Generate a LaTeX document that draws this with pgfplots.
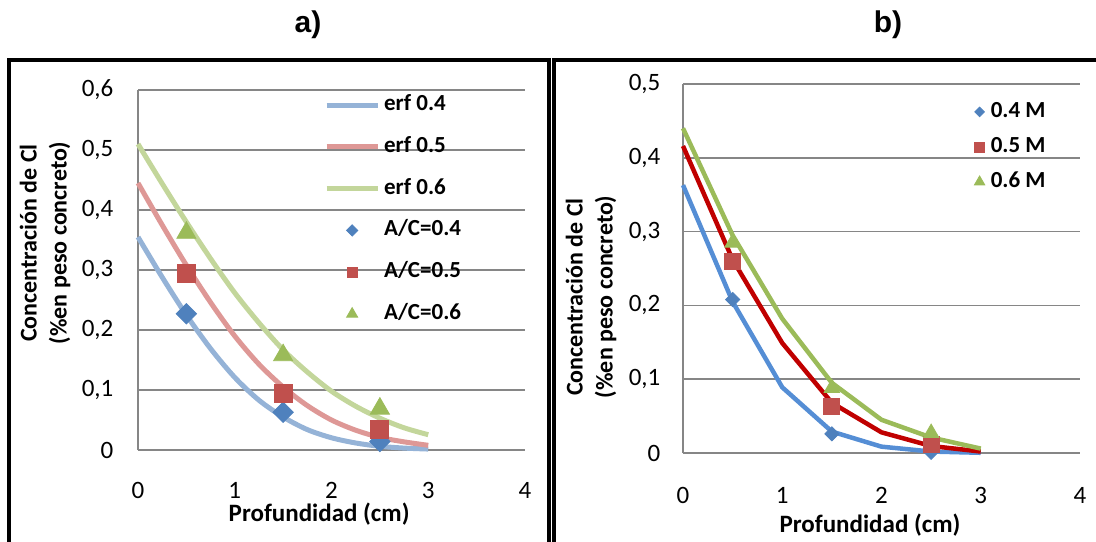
\documentclass[border=0pt]{standalone}
\usepackage{fontspec}
\setmainfont{Carlito}
\newfontfamily\arialfont{Liberation Sans}
\usepackage{pgfplots}
\pgfplotsset{compat=1.18}
\definecolor{gridgray}{HTML}{868686}
\definecolor{erfA}{HTML}{95B3D7}
\definecolor{erfB}{HTML}{DE9896}
\definecolor{erfC}{HTML}{C3D69B}
\definecolor{mkA}{HTML}{4F81BD}
\definecolor{mkB}{HTML}{C0504D}
\definecolor{mkC}{HTML}{9BBB59}
\definecolor{lnA}{HTML}{558ED5}
\definecolor{lnB}{HTML}{C00000}
\definecolor{lnC}{HTML}{9BBB59}
\pgfplotsset{
  panel/.style={
    scale only axis, clip=false,
    xmin=0, xmax=4, ymin=0,
    axis lines=left,
    axis line style={draw=gridgray, line width=0.75pt, -},
    ymajorgrids, grid style={draw=gridgray, line width=0.75pt},
    major tick length=0pt,
    xtick={0,1,2,3,4}, xticklabels={0,1,2,3,4},
    tick label style={font=\fontsize{12.5}{15}\selectfont},
    xlabel={Profundidad (cm)},
    ylabel={Concentración de Cl\\(\%en peso concreto)},
    xlabel style={font=\bfseries\fontsize{12.5}{15}\selectfont, anchor=center, inner sep=0pt},
    ylabel style={font=\bfseries\fontsize{12}{15}\selectfont, align=center, anchor=center},
    legend cell align=left,
  },
  markleg/.style={legend image code/.code={\path[draw=none,fill=none] (0pt,0pt) -- (25.5pt,0pt);
    \draw plot coordinates {(12.75pt,0pt)};}},
}
\begin{document}
\begin{tikzpicture}
\useasboundingbox (0,0) rectangle (548pt,-270.5pt);
\draw[line width=2pt] (4.5pt,-300pt) -- (4.5pt,-30pt) -- (274.25pt,-30pt) -- (274.25pt,-300pt);
\draw[line width=2pt] (276.75pt,-300pt) -- (276.75pt,-30pt) -- (600pt,-30pt);
\node[font=\arialfont\bfseries\fontsize{15}{18}\selectfont] at (154pt,-12.5pt) {a)};
\node[font=\arialfont\bfseries\fontsize{15}{18}\selectfont] at (444pt,-12.5pt) {b)};

% ---------------- panel a
\begin{axis}[panel,
  at={(69pt,-225pt)}, anchor=south west,
  width=193.5pt, height=180pt,
  ymax=0.6,
  ytick={0,0.1,0.2,0.3,0.4,0.5,0.6},
  yticklabels={0,{0,1},{0,2},{0,3},{0,4},{0,5},{0,6}},
  xticklabel style={inner sep=0pt, yshift=-16.1pt},
  yticklabel style={xshift=-8.8pt},
  xlabel style={at={(rel axis cs:0.468,-0.1778)}},
  ylabel style={at={(rel axis cs:-0.2403,0.575)}},
  legend style={at={(rel axis cs:0.480,0.997)}, anchor=north west, draw=none, fill=none,
    font=\bfseries\fontsize{11.5}{13}\selectfont, inner sep=0pt,
    row sep=7.4pt, column sep=0pt,
    nodes={inner sep=2pt, text height=7.5pt, text depth=2pt}},
  legend image code/.code={\draw plot coordinates {(0pt,0pt) (25.5pt,0pt)};},
]
\addplot[erfA, line width=2.5pt, smooth] coordinates {
(0,0.355)(0.25,0.288)(0.5,0.225)(0.75,0.169)(1,0.121)(1.25,0.083)(1.5,0.055)
(1.75,0.034)(2,0.0204)(2.25,0.0117)(2.5,0.0062)(2.75,0.0032)(3,0.0016)};
\addlegendentry{erf 0.4}
\addplot[erfB, line width=2.5pt, smooth] coordinates {
(0,0.445)(0.25,0.375)(0.5,0.308)(0.75,0.246)(1,0.190)(1.25,0.143)(1.5,0.105)
(1.75,0.074)(2,0.050)(2.25,0.033)(2.5,0.021)(2.75,0.0136)(3,0.0078)};
\addlegendentry{erf 0.5}
\addplot[erfC, line width=2.5pt, smooth] coordinates {
(0,0.510)(0.25,0.444)(0.5,0.380)(0.75,0.319)(1,0.262)(1.25,0.212)(1.5,0.167)
(1.75,0.130)(2,0.098)(2.25,0.073)(2.5,0.053)(2.75,0.037)(3,0.0255)};
\addlegendentry{erf 0.6}
\addplot[forget plot, only marks, mark=square*, mark size=3.6pt, mark options={rotate=45, draw=mkA, fill=mkA}]
  coordinates {(0.5,0.227)(1.5,0.063)(2.5,0.014)};
\addplot[forget plot, only marks, mark=square*, mark size=4.5pt, mark options={draw=mkB, fill=mkB}]
  coordinates {(0.5,0.294)(1.5,0.095)(2.5,0.035)};
\addplot[forget plot, only marks, mark=triangle*, mark size=5.5pt, mark options={draw=mkC, fill=mkC}]
  coordinates {(0.5,0.362)(1.5,0.158)(2.5,0.069)};
\addlegendimage{only marks, mark=square*, mark size=2pt, mark options={rotate=45, draw=mkA, fill=mkA}, markleg}
\addlegendentry{A/C=0.4}
\addlegendimage{only marks, mark=square*, mark size=2.5pt, mark options={draw=mkB, fill=mkB}, markleg}
\addlegendentry{A/C=0.5}
\addlegendimage{only marks, mark=triangle*, mark size=3.2pt, mark options={draw=mkC, fill=mkC}, markleg}
\addlegendentry{A/C=0.6}
\end{axis}

% ---------------- panel b
\begin{axis}[panel,
  at={(341.5pt,-226.5pt)}, anchor=south west,
  width=198.5pt, height=184.5pt,
  ymax=0.5,
  ytick={0,0.1,0.2,0.3,0.4,0.5},
  yticklabels={0,{0,1},{0,2},{0,3},{0,4},{0,5}},
  xticklabel style={inner sep=0pt, yshift=-17.1pt},
  yticklabel style={xshift=-7.8pt},
  xlabel style={at={(rel axis cs:0.471,-0.1951)}},
  ylabel style={at={(rel axis cs:-0.2317,0.423)}},
  legend style={at={(rel axis cs:0.733,0.962)}, anchor=north west, draw=none, fill=none,
    font=\bfseries\fontsize{11.5}{13}\selectfont, inner sep=0pt,
    row sep=4pt, column sep=1pt,
    nodes={inner sep=2pt, text height=7.5pt, text depth=2pt}},
  legend image code/.code={\draw plot coordinates {(0pt,0pt)};},
]
\addplot[forget plot, lnA, line width=2.25pt] coordinates {
(0,0.363)(0.5,0.205)(1,0.089)(1.5,0.029)(2,0.0086)(2.5,0.002)(3,0.0003)};
\addplot[forget plot, lnB, line width=2.25pt] coordinates {
(0,0.416)(0.5,0.262)(1,0.149)(1.5,0.068)(2,0.028)(2.5,0.0095)(3,0.002)};
\addplot[forget plot, lnC, line width=2.25pt] coordinates {
(0,0.440)(0.5,0.295)(1,0.182)(1.5,0.095)(2,0.045)(2.5,0.021)(3,0.006)};
\addplot[forget plot, only marks, mark=square*, mark size=2.5pt, mark options={rotate=45, draw=mkA, fill=mkA}]
  coordinates {(0.5,0.208)(1.5,0.026)(2.5,0.001)};
\addplot[forget plot, only marks, mark=square*, mark size=4pt, mark options={draw=mkB, fill=mkB}]
  coordinates {(0.5,0.260)(1.5,0.063)(2.5,0.012)};
\addplot[forget plot, only marks, mark=triangle*, mark size=4.5pt, mark options={draw=mkC, fill=mkC}]
  coordinates {(0.5,0.285)(1.5,0.088)(2.5,0.027)};
\addlegendimage{only marks, mark=square*, mark size=1.7pt, mark options={rotate=45, draw=mkA, fill=mkA}}
\addlegendentry{0.4 M}
\addlegendimage{only marks, mark=square*, mark size=2.5pt, mark options={draw=mkB, fill=mkB}}
\addlegendentry{0.5 M}
\addlegendimage{only marks, mark=triangle*, mark size=3pt, mark options={draw=mkC, fill=mkC}}
\addlegendentry{0.6 M}
\end{axis}
\end{tikzpicture}
\end{document}
